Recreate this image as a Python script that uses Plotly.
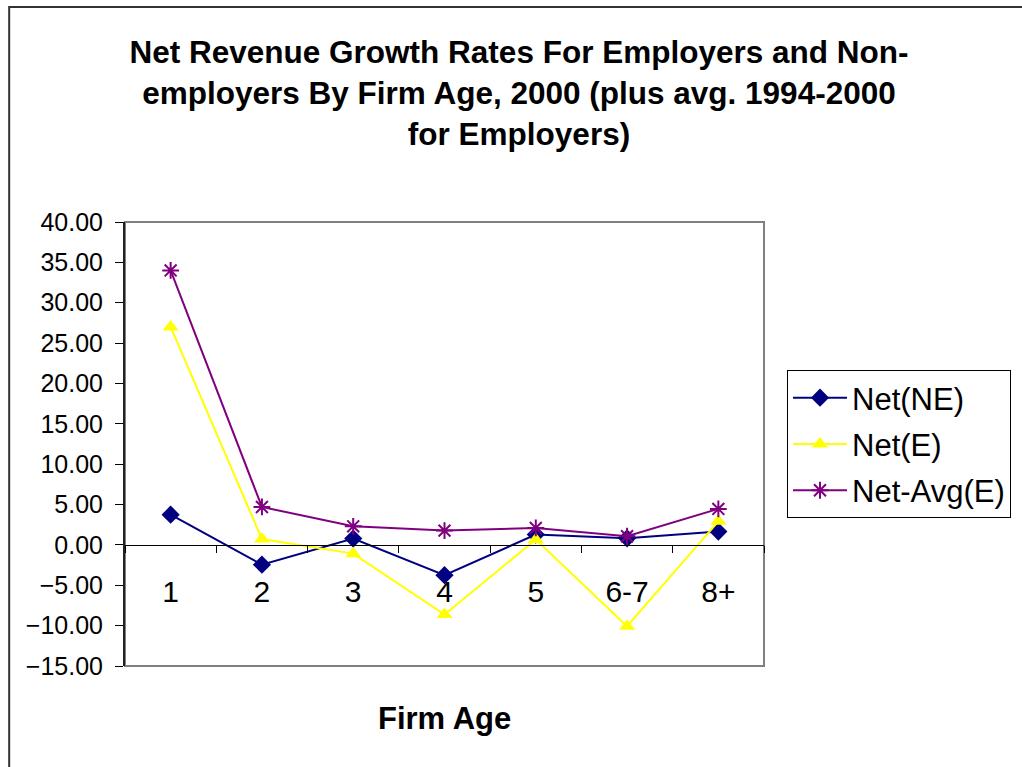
import plotly.graph_objects as go

# Firm age groups
ages = ["1", "2", "3", "4", "5", "6-7", "8+"]

# Net revenue growth rates (%)
net_ne = [3.75, -2.45, 0.78, -3.75, 1.28, 0.82, 1.65]
net_e = [27.0, 0.72, -1.08, -8.62, 0.66, -10.08, 2.92]
net_avg_e = [34.0, 4.70, 2.30, 1.77, 2.10, 1.07, 4.46]

y_ticks = [40, 35, 30, 25, 20, 15, 10, 5, 0, -5, -10, -15]

FONT = "Liberation Sans, Arial, sans-serif"

fig = go.Figure()

fig.add_trace(go.Scatter(
    x=ages, y=net_ne, name="Net(NE)", mode="lines+markers",
    line=dict(color="#000080", width=2),
    marker=dict(symbol="diamond", size=14, color="#000080"),
    legendgroup="a",
))
fig.add_trace(go.Scatter(
    x=ages, y=net_e, name="Net(E)", mode="lines+markers",
    line=dict(color="#FFFF00", width=2),
    marker=dict(symbol="triangle-up", size=14, color="#FFFF00"),
    legendgroup="b",
))
fig.add_trace(go.Scatter(
    x=ages, y=net_avg_e, name="Net-Avg(E)", mode="lines+markers",
    line=dict(color="#800080", width=2),
    marker=dict(symbol="asterisk-open", size=14, color="#800080",
                line=dict(color="#800080", width=2)),
    legendgroup="c",
))

fig.update_layout(
    width=1022, height=767,
    margin=dict(l=125, r=257, t=222, b=101),
    paper_bgcolor="white", plot_bgcolor="white",
    font=dict(family=FONT, color="black"),
    title=dict(
        text="<b>Net Revenue Growth Rates For Employers and Non-<br>"
             "employers By Firm Age, 2000 (plus avg. 1994-2000<br>"
             "for Employers)</b>",
        font=dict(size=31.5, family=FONT, color="black"),
        x=519 / 1022, xanchor="center", xref="container",
        y=1 - 63 / 767, yanchor="top", yref="container",
    ),
    showlegend=True,
    legend=dict(
        x=(787 - 125) / 640, xanchor="left",
        y=(666 - 370) / 444, yanchor="top",
        font=dict(size=31, family=FONT, color="black"),
        bordercolor="black", borderwidth=1,
        bgcolor="white",
        itemwidth=54,
        tracegroupgap=3,
        traceorder="grouped",
    ),
    xaxis=dict(
        type="category", range=[-0.5, 6.5],
        anchor="free", position=15 / 55,
        showline=True, linecolor="black", linewidth=1,
        ticks="outside", tickson="boundaries", ticklen=7, tickcolor="black",
        tickfont=dict(size=30, family=FONT, color="black"),
        ticklabelstandoff=20,
        showgrid=False, zeroline=False,
    ),
    yaxis=dict(
        range=[-15, 40], tickvals=y_ticks, tickformat=".2f",
        showline=True, linecolor="#222222", linewidth=2,
        ticks="outside", ticklen=8, tickcolor="black",
        tickfont=dict(size=25, family=FONT, color="black"),
        ticklabelstandoff=7,
        showgrid=False, zeroline=False,
    ),
    annotations=[dict(
        text="<b>Firm Age</b>", x=0.5, y=(666 - 718) / 444,
        xref="paper", yref="paper", xanchor="center", yanchor="middle",
        showarrow=False, font=dict(size=31, family=FONT, color="black"),
    )],
    shapes=[
        # plot-area frame
        dict(type="rect", xref="paper", yref="paper", x0=0, x1=1, y0=0, y1=1,
             line=dict(color="#808080", width=2), layer="below"),
        # chart-area frame
        dict(type="rect", xref="paper", yref="paper",
             x0=(9 - 125) / 640, x1=(1040 - 125) / 640,
             y0=(666 - 790) / 444, y1=(666 - 7) / 444,
             line=dict(color="#333333", width=2), layer="below"),
    ],
)

fig.write_html("out.html")
